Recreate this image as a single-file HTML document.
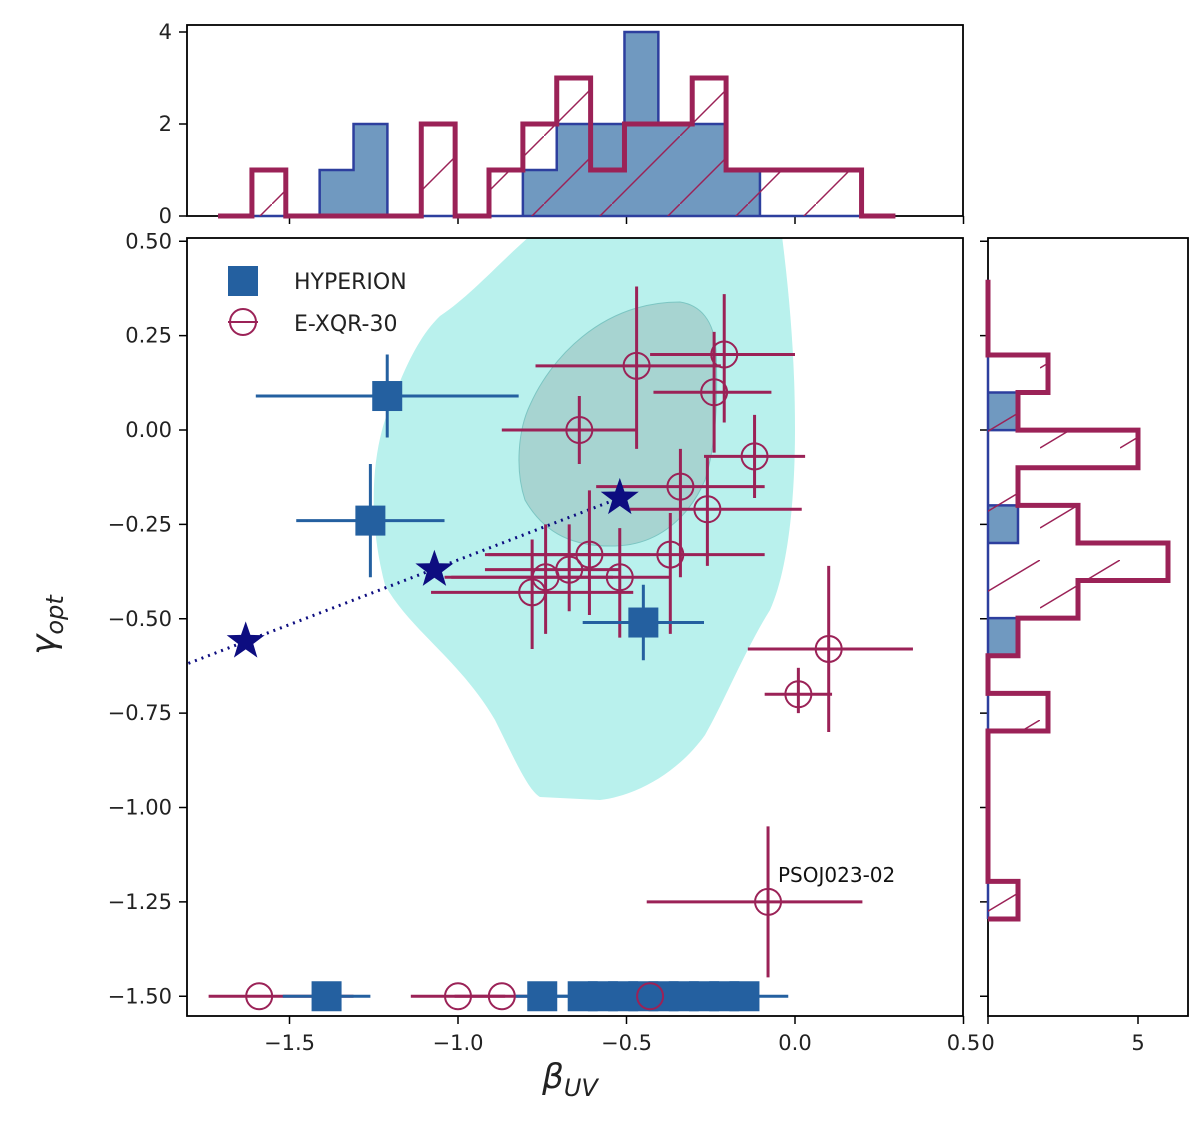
<!DOCTYPE html>
<html><head><meta charset="utf-8"><style>
body{margin:0;background:#fff}
svg{display:block;font-family:"DejaVu Sans","Liberation Sans",sans-serif}
</style></head><body>
<svg id="c" width="1200" height="1146" viewBox="0 0 1200 1146">
<defs>
<pattern id="hatch" patternUnits="userSpaceOnUse" width="68" height="68">
<line x1="0" y1="68" x2="68" y2="0" stroke="#9b2257" stroke-width="1.5"/>
</pattern>
<pattern id="hatchR" patternUnits="userSpaceOnUse" width="80" height="80">
<line x1="0" y1="48" x2="80" y2="0" stroke="#9b2257" stroke-width="1.5"/>
</pattern>
<clipPath id="mainclip"><rect x="187" y="238" width="776" height="778"/></clipPath>
</defs>
<g id="main" clip-path="url(#mainclip)"></g>
<g id="frames"></g>
</svg>
<script>
// ---- data ----
const xqrX=[-0.47,-0.21,-0.24,-0.64,-0.12,-0.34,-0.26,-0.37,-0.61,-0.67,-0.52,-0.78,-0.74,0.10,0.01,-0.08,-1.59,-1.00,-0.87,-0.43];
const xqrY=[0.17,0.20,0.10,0.00,-0.07,-0.15,-0.21,-0.33,-0.33,-0.37,-0.39,-0.43,-0.39,-0.58,-0.70,-1.25,-1.50,-1.50,-1.50,-1.50];
const xqrXlo=[0.30,0.22,0.18,0.23,0.15,0.25,0.23,0.55,0.30,0.25,0.50,0.30,0.30,0.24,0.10,0.36,0.15,0.14,0.14,0.14];
const xqrXhi=[0.25,0.21,0.17,0.17,0.15,0.25,0.28,0.28,0.18,0.15,0.15,0.30,0.20,0.25,0.10,0.28,0.28,0.14,0.14,0.14];
const xqrYlo=[0.22,0.18,0.16,0.09,0.11,0.24,0.15,0.21,0.16,0.11,0.16,0.15,0.15,0.22,0.05,0.20,0,0,0,0];
const xqrYhi=[0.21,0.16,0.16,0.09,0.11,0.10,0.14,0.11,0.17,0.12,0.13,0.14,0.14,0.22,0.07,0.20,0,0,0,0];
const hypX=[-1.21,-1.26,-0.45,-1.39,-0.75,-0.63,-0.57,-0.51,-0.45,-0.39,-0.33,-0.27,-0.21,-0.15];
const hypY=[0.09,-0.24,-0.51,-1.50,-1.50,-1.50,-1.50,-1.50,-1.50,-1.50,-1.50,-1.50,-1.50,-1.50];
const hypXerr=[0.39,0.22,0.18,0.13,0.08,0.08,0.08,0.08,0.08,0.08,0.08,0.08,0.08,0.13];
const hypYerr=[0.11,0.15,0.10,0,0,0,0,0,0,0,0,0,0,0];
const starX=[-1.63,-1.07,-0.52];
const starY=[-0.56,-0.37,-0.18];
const topEdge0=-1.712, topBinW=0.1005;
const topRed=[0,1,0,0,0,0,2,0,1,2,3,1,2,2,3,1,1,1,1,0];
const topBlue=[0,0,0,1,2,0,0,0,0,1,2,2,4,2,2,1,0,0,0,0];
const rightEdge0=0.398, rightBinW=0.0996;
const rightRed=[0,0,2,1,5,1,3,6,3,1,0,2,0,0,0,0,1];
const rightBlue=[0,0,0,1,0,0,1,0,0,1,0,0,0,0,0,0,0];
const xTicks=[-1.5,-1.0,-0.5,0.0,0.5];
const xTickLabels=["\u22121.5","\u22121.0","\u22120.5","0.0","0.5"];
const yTicks=[0.5,0.25,0,-0.25,-0.5,-0.75,-1,-1.25,-1.5];
const yTickLabels=["0.50","0.25","0.00","\u22120.25","\u22120.50","\u22120.75","\u22121.00","\u22121.25","\u22121.50"];
const topTicks=[0,2,4];
const rightTicks=[0,5];

// ---- axes ----
const X=v=>795+337*v;
const Y=v=>430-377.5*v;
const TY=v=>216-46*v;
const RX=v=>988+30*v;
const NS="http://www.w3.org/2000/svg";
const svg=document.getElementById('c');
const main=document.getElementById('main');
const frames=document.getElementById('frames');
function mk(tag,attrs,parent){const e=document.createElementNS(NS,tag);for(const k in attrs)e.setAttribute(k,attrs[k]);(parent||svg).appendChild(e);return e;}
const FS=21;

let kde=mk('path',{d:"M530,236 C500,262 470,296 440,316 C415,340 400,380 385,420 C372,460 368,520 385,585 C410,630 460,660 495,720 C515,760 528,790 540,797 L600,800 C640,795 680,770 705,735 C725,700 745,650 770,610 C788,570 795,500 795,430 C795,360 790,300 782,236 Z",fill:"#b9f1ed"},main);


let kde2=mk('path',{d:"M680,302 C700,305 714,320 716,350 C718,400 716,445 705,480 C690,515 660,545 615,546 C575,547 545,535 525,500 C515,470 518,430 530,405 C550,360 600,302 680,302 Z",fill:"#a7d4d1",stroke:"#7cc6c3","stroke-width":1},main);



let dl=mk('line',{x1:X(-1.8),y1:Y(starY[0]+(starY[2]-starY[0])/(starX[2]-starX[0])*(-1.8-starX[0])),x2:X(starX[2]),y2:Y(starY[2]),stroke:"#0d0d80","stroke-width":3,"stroke-dasharray":"2,5"},main);



for(let i=0;i<xqrX.length;i++){
  const g=mk('g',{},main);
  
  
  mk('line',{x1:X(xqrX[i]-xqrXlo[i]),x2:X(xqrX[i]+xqrXhi[i]),y1:Y(xqrY[i]),y2:Y(xqrY[i]),stroke:"#9b2257","stroke-width":3},g);
  if(xqrYlo[i]+xqrYhi[i]>0)mk('line',{x1:X(xqrX[i]),x2:X(xqrX[i]),y1:Y(xqrY[i]-xqrYlo[i]),y2:Y(xqrY[i]+xqrYhi[i]),stroke:"#9b2257","stroke-width":3},g);
}
for(let i=0;i<hypX.length;i++){
  const g=mk('g',{},main);
  
  
  mk('line',{x1:X(hypX[i]-hypXerr[i]),x2:X(hypX[i]+hypXerr[i]),y1:Y(hypY[i]),y2:Y(hypY[i]),stroke:"#2460a0","stroke-width":3},g);
  if(hypYerr[i]>0)mk('line',{x1:X(hypX[i]),x2:X(hypX[i]),y1:Y(hypY[i]-hypYerr[i]),y2:Y(hypY[i]+hypYerr[i]),stroke:"#2460a0","stroke-width":3},g);
  mk('rect',{x:X(hypX[i])-15,y:Y(hypY[i])-15,width:30,height:30,fill:"#2460a0"},g);
}
for(let i=0;i<xqrX.length;i++){
  const c=mk('circle',{cx:X(xqrX[i]),cy:Y(xqrY[i]),r:13,fill:"none",stroke:"#9b2257","stroke-width":2},main);
  
  
}
function starPath(cx,cy,R,r){let p="";for(let k=0;k<10;k++){const a=-Math.PI/2+k*Math.PI/5;const rr=k%2?r:R;p+=(k?"L":"M")+(cx+rr*Math.cos(a)).toFixed(1)+","+(cy+rr*Math.sin(a)).toFixed(1);}return p+"Z";}
for(let i=0;i<starX.length;i++){
  const s=mk('path',{d:starPath(X(starX[i]),Y(starY[i]),20,8),fill:"#0d0d80"},main);
  
  
}
let ann=mk('text',{x:778,y:882,"font-size":20,fill:"#111"},main);ann.textContent="PSOJ023-02";



let lg=mk('g',{},svg);
mk('rect',{x:228,y:266,width:30,height:30,fill:"#2460a0"},lg);
let t1=mk('text',{x:294,y:289,"font-size":22,fill:"#222"},lg);t1.textContent="HYPERION";
mk('circle',{cx:243,cy:322,r:13,fill:"none",stroke:"#9b2257","stroke-width":2},lg);
mk('line',{x1:228,x2:258,y1:322,y2:322,stroke:"#9b2257","stroke-width":2},lg);
let t2=mk('text',{x:294,y:331,"font-size":22,fill:"#222"},lg);t2.textContent="E-XQR-30";

mk('rect',{x:187,y:238,width:776,height:778,fill:"none",stroke:"#000","stroke-width":1.8},frames);
xTicks.forEach((v,i)=>{mk('line',{x1:X(v),x2:X(v),y1:1016,y2:1024,stroke:"#000","stroke-width":1.5},frames);
  const t=mk('text',{x:X(v),y:1050,"font-size":FS,"text-anchor":"middle",fill:"#222"},frames);t.textContent=xTickLabels[i];
  
  mk('line',{x1:X(v),x2:X(v),y1:216,y2:224,stroke:"#000","stroke-width":1.5},frames);});
yTicks.forEach((v,i)=>{mk('line',{x1:179,x2:187,y1:Y(v),y2:Y(v),stroke:"#000","stroke-width":1.5},frames);
  const t=mk('text',{x:172,y:Y(v)+7,"font-size":FS,"text-anchor":"end",fill:"#222"},frames);t.textContent=yTickLabels[i];
  
  mk('line',{x1:980,x2:988,y1:Y(v),y2:Y(v),stroke:"#000","stroke-width":1.5},frames);});
let xl=mk('text',{x:570,y:1088,"font-size":34,"font-style":"italic","text-anchor":"middle",fill:"#222"},svg);
xl.innerHTML='β<tspan font-size="24" dy="8">UV</tspan>';

let yl=mk('text',{x:0,y:0,"font-size":34,"font-style":"italic","text-anchor":"middle",fill:"#222",transform:"translate(55,625) rotate(-90)"},svg);
yl.innerHTML='γ<tspan font-size="24" dy="8">opt</tspan>';


function stepTop(arr){let p="M"+X(topEdge0)+","+TY(0);arr.forEach((c,i)=>{const a=X(topEdge0+i*topBinW),b=X(topEdge0+(i+1)*topBinW);p+="L"+a+","+TY(c)+"L"+b+","+TY(c);});return p+"L"+X(topEdge0+arr.length*topBinW)+","+TY(0);}
let tb=mk('path',{d:stepTop(topBlue)+"Z",fill:"#7099c0",stroke:"#2d3f9e","stroke-width":2.5},svg);

let th=mk('path',{d:stepTop(topRed)+"Z",fill:"url(#hatch)",stroke:"none"},svg);

let tr=mk('path',{d:stepTop(topRed),fill:"none",stroke:"#9b2257","stroke-width":5},svg);

mk('rect',{x:187,y:25,width:776,height:191,fill:"none",stroke:"#000","stroke-width":1.8},frames);
topTicks.forEach(v=>{mk('line',{x1:179,x2:187,y1:TY(v),y2:TY(v),stroke:"#000","stroke-width":1.5},frames);
  const t=mk('text',{x:172,y:TY(v)+7,"font-size":FS,"text-anchor":"end",fill:"#222"},frames);t.textContent=String(v);
  });

function stepRight(arr){let p="M"+RX(0)+","+Y(rightEdge0);arr.forEach((c,i)=>{const a=Y(rightEdge0-i*rightBinW),b=Y(rightEdge0-(i+1)*rightBinW);p+="L"+RX(c)+","+a+"L"+RX(c)+","+b;});return p+"L"+RX(0)+","+Y(rightEdge0-arr.length*rightBinW);}
let rb=mk('path',{d:stepRight(rightBlue)+"Z",fill:"#7099c0",stroke:"#2d3f9e","stroke-width":2.5},svg);

let rh=mk('path',{d:stepRight(rightRed)+"Z",fill:"url(#hatchR)",stroke:"none"},svg);

let rr=mk('path',{d:stepRight(rightRed),fill:"none",stroke:"#9b2257","stroke-width":5},svg);

mk('rect',{x:988,y:238,width:200,height:778,fill:"none",stroke:"#000","stroke-width":1.8},frames);
rightTicks.forEach(v=>{mk('line',{x1:RX(v),x2:RX(v),y1:1016,y2:1024,stroke:"#000","stroke-width":1.5},frames);
  const t=mk('text',{x:RX(v),y:1050,"font-size":FS,"text-anchor":"middle",fill:"#222"},frames);t.textContent=String(v);
  });
</script>
</body></html>
